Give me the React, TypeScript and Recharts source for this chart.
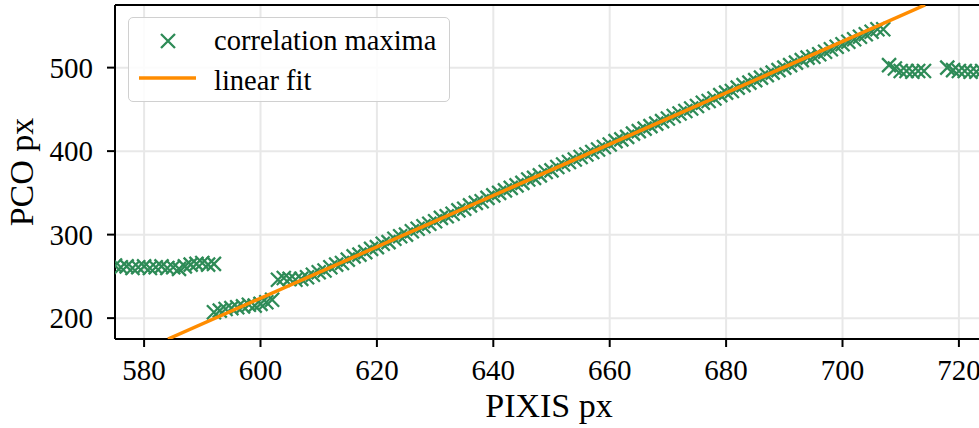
import React from "react";
import {
  ScatterChart,
  Scatter,
  XAxis,
  YAxis,
  CartesianGrid,
  ReferenceLine,
  Legend,
  Label,
} from "recharts";

// ---- data ----
const pixisX: number[] = [
  575, 576, 577, 578, 579, 580, 581, 582, 583, 584, 585, 586, 587, 588, 589, 590, 591, 592,
  592, 593, 594, 595, 596, 597, 598, 599, 600, 601, 602,
  603, 604, 605, 606, 607, 608, 609, 610, 611, 612, 613, 614, 615, 616, 617, 618, 619, 620,
  621, 622, 623, 624, 625, 626, 627, 628, 629, 630, 631, 632, 633, 634, 635, 636, 637, 638,
  639, 640, 641, 642, 643, 644, 645, 646, 647, 648, 649, 650, 651, 652, 653, 654, 655, 656,
  657, 658, 659, 660, 661, 662, 663, 664, 665, 666, 667, 668, 669, 670, 671, 672, 673, 674,
  675, 676, 677, 678, 679, 680, 681, 682, 683, 684, 685, 686, 687, 688, 689, 690, 691, 692,
  693, 694, 695, 696, 697, 698, 699, 700, 701, 702, 703, 704, 705, 706, 707,
  708, 709, 710, 711, 712, 713, 714,
  718, 719, 720, 721, 722, 723, 724,
];
const pcoY: number[] = [
  263, 261, 262, 260, 261, 262, 260, 261, 262, 260, 261, 259, 262, 264, 265, 266, 264, 265,
  207, 209, 211, 212, 213, 214, 216, 215, 217, 219, 222,
  246, 248, 247, 246, 247, 249, 252, 255, 257, 261, 264, 266, 270, 274, 276, 279, 283, 285,
  289, 291, 295, 298, 300, 304, 307, 310, 313, 316, 320, 322, 325, 329, 331, 335, 338, 340,
  344, 347, 350, 353, 356, 359, 362, 366, 368, 371, 375, 377, 381, 384, 387, 390, 393, 396,
  399, 402, 405, 408, 412, 414, 417, 421, 424, 427, 430, 433, 436, 439, 442, 445, 448, 451,
  454, 458, 460, 463, 467, 470, 472, 476, 479, 482, 485, 488, 491, 494, 497, 500, 503, 506,
  509, 512, 513, 516, 519, 522, 525, 528, 531, 534, 537, 540, 543, 546, 546,
  503, 499, 496, 496, 495, 496, 496,
  500, 497, 496, 496, 495, 495, 496,
];
const fitX: number[] = [584.1, 714.2];
const fitY: number[] = [175, 575];
const xTicks: number[] = [580, 600, 620, 640, 660, 680, 700, 720];
const yTicks: number[] = [200, 300, 400, 500];
const seriesNames: string[] = ["correlation maxima", "linear fit"];
const xLabel = "PIXIS px";
const yLabel = "PCO px";

const maxima = pixisX.map((x, i) => ({ x, y: pcoY[i] }));
const fit = fitX.map((x, i) => ({ x, y: fitY[i] }));

// ---- styles ----
const FONT = "'Liberation Serif', serif";
const GREEN = "#2e8b57";
const ORANGE = "#ff8c00";

const Cross = (props: any) => {
  const { cx, cy } = props;
  if (cx == null || cy == null) return <g />;
  const s = 7;
  return (
    <path
      d={`M${cx - s},${cy - s}L${cx + s},${cy + s}M${cx - s},${cy + s}L${cx + s},${cy - s}`}
      stroke={GREEN}
      strokeWidth={2.3}
      fill="none"
    />
  );
};

const Empty = () => <g />;

const XTick = (props: any) => {
  const { x, payload } = props;
  return (
    <text x={x} y={380} textAnchor="middle" fontSize={29} fontFamily={FONT} fill="#000">
      {payload.value}
    </text>
  );
};

const YTick = (props: any) => {
  const { y, payload } = props;
  return (
    <text x={93} y={y + 10} textAnchor="end" fontSize={29} fontFamily={FONT} fill="#000">
      {payload.value}
    </text>
  );
};

const XLabelContent = (props: any) => {
  const vb = props.viewBox || {};
  const cx = (vb.x ?? 115) + (vb.width ?? 868) / 2;
  return (
    <text x={cx} y={417} textAnchor="middle" fontSize={34} fontFamily={FONT} fill="#000">
      {xLabel}
    </text>
  );
};

const YLabelContent = (props: any) => {
  const vb = props.viewBox || {};
  const cy = (vb.y ?? 5) + (vb.height ?? 334) / 2;
  return (
    <text
      x={33}
      y={cy}
      transform={`rotate(-90, 33, ${cy})`}
      textAnchor="middle"
      fontSize={34}
      fontFamily={FONT}
      fill="#000"
    >
      {yLabel}
    </text>
  );
};

const LegendBox = () => (
  <div
    style={{
      width: 322,
      height: 85,
      boxSizing: "border-box",
      border: "1.5px solid #d0d0d0",
      borderRadius: 5,
      background: "rgba(255,255,255,0.85)",
      position: "relative",
      fontFamily: FONT,
      fontSize: 28.5,
      color: "#000",
    }}
  >
    <svg
      width={70}
      height={85}
      style={{ position: "absolute", left: 0, top: 0 }}
    >
      <path d="M32,16L46,30M32,30L46,16" stroke={GREEN} strokeWidth={2.3} fill="none" />
      <line x1={10} y1={60} x2={67} y2={60} stroke={ORANGE} strokeWidth={3.5} />
    </svg>
    <div style={{ position: "absolute", left: 85, top: 6, lineHeight: "34px", whiteSpace: "nowrap" }}>
      {seriesNames[0]}
    </div>
    <div style={{ position: "absolute", left: 85, top: 46, lineHeight: "34px", whiteSpace: "nowrap" }}>
      {seriesNames[1]}
    </div>
  </div>
);

export default function App() {
  return (
    <div
      style={{
        position: "absolute",
        left: 0,
        top: 0,
        width: 979,
        height: 428,
        overflow: "hidden",
        background: "#fff",
      }}
    >
      <ScatterChart
        width={1000}
        height={428}
        margin={{ top: 5, right: 17, bottom: 0, left: 0 }}
      >
        <CartesianGrid stroke="#e8e8e8" strokeWidth={2} />
        <XAxis
          type="number"
          dataKey="x"
          domain={[575, 724.14]}
          ticks={xTicks}
          allowDataOverflow
          height={89}
          axisLine={{ stroke: "#000", strokeWidth: 2 }}
          tickLine={{ stroke: "#000", strokeWidth: 2 }}
          tickSize={8}
          tick={<XTick />}
          interval={0}
        >
          <Label content={<XLabelContent />} />
        </XAxis>
        <YAxis
          type="number"
          dataKey="y"
          domain={[175, 575]}
          ticks={yTicks}
          allowDataOverflow
          width={115}
          axisLine={{ stroke: "#000", strokeWidth: 2 }}
          tickLine={{ stroke: "#000", strokeWidth: 2 }}
          tickSize={8}
          tick={<YTick />}
          interval={0}
        >
          <Label content={<YLabelContent />} />
        </YAxis>
        <ReferenceLine y={575} stroke="#000" strokeWidth={2} />
        <Scatter
          name={seriesNames[0]}
          data={maxima}
          shape={<Cross />}
          isAnimationActive={false}
        />
        <Scatter
          name={seriesNames[1]}
          data={fit}
          line={{ stroke: ORANGE, strokeWidth: 3.5 }}
          shape={<Empty />}
          isAnimationActive={false}
        />
        <Legend
          layout="vertical"
          align="center"
          verticalAlign="middle"
          content={<LegendBox />}
          wrapperStyle={{ position: "absolute", left: 128, top: 17, width: 322, height: 85 }}
        />
      </ScatterChart>
    </div>
  );
}
